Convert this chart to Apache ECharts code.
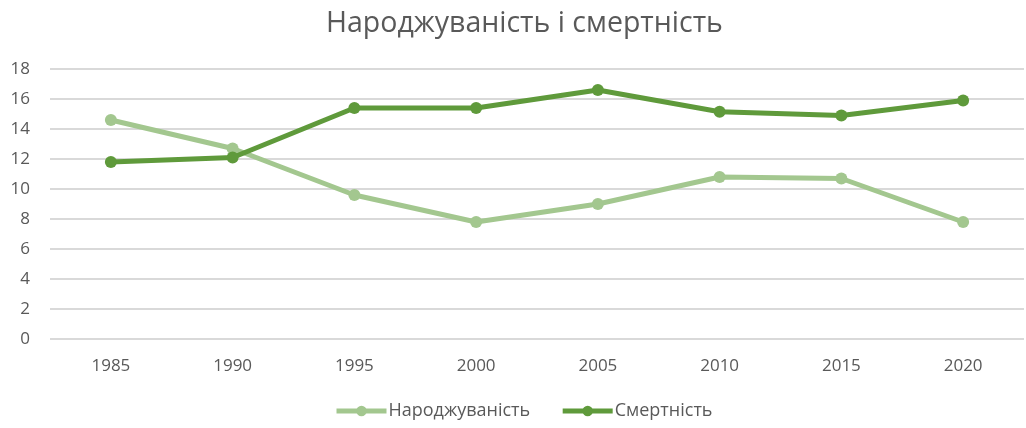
<!DOCTYPE html>
<html>
<head>
<meta charset="utf-8">
<script src="https://cdn.jsdelivr.net/npm/echarts@6/dist/echarts.min.js"></script>
<style>html,body{margin:0;padding:0;background:#fff;}#c{width:1026px;height:428px;}</style>
</head>
<body>
<div id="c"></div>
<script>
const categories = ['1985','1990','1995','2000','2005','2010','2015','2020'];
const births = [14.6, 12.7, 9.6, 7.8, 9.0, 10.8, 10.7, 7.8];
const deaths = [11.8, 12.1, 15.4, 15.4, 16.6, 15.15, 14.9, 15.9];
const seriesNames = ['Народжуваність', 'Смертність'];
const titleText = 'Народжуваність і смертність';

const chart = echarts.init(document.getElementById('c'));
const txt = '#595959';
const font = '"Open Sans", "Liberation Sans", sans-serif';
function lineSeries(name, data, color) {
  return {
    name: name, type: 'line', data: data,
    symbol: 'circle', symbolSize: 12,
    lineStyle: { color: color, width: 5 },
    itemStyle: { color: color },
    emphasis: { disabled: true }
  };
}
chart.setOption({
  animation: false,
  title: { text: titleText, left: 321, top: 4,
    textStyle: { fontFamily: font, fontSize: 28.5, fontWeight: 'normal', color: txt } },
  legend: { bottom: 3, left: 329, itemWidth: 50, itemHeight: 13, itemGap: 30,
    lineStyle: { width: 5 },
    textStyle: { fontFamily: font, fontSize: 18, color: txt, padding: [0, 0, 0, -3] },
    data: seriesNames },
  grid: { left: 50, right: 2, top: 69, bottom: 89, containLabel: false },
  xAxis: { type: 'category', data: categories, boundaryGap: true,
    axisLine: { show: false }, axisTick: { show: false },
    axisLabel: { fontFamily: font, fontSize: 17, color: txt, margin: 19 } },
  yAxis: { type: 'value', min: 0, max: 18, interval: 2,
    axisLine: { show: false }, axisTick: { show: false },
    axisLabel: { fontFamily: font, fontSize: 17, color: txt, margin: 20 },
    splitLine: { lineStyle: { color: '#d9d9d9', width: 2 } } },
  series: [
    lineSeries(seriesNames[0], births, '#A3C78F'),
    lineSeries(seriesNames[1], deaths, '#5F9A3B')
  ]
});
</script>
</body>
</html>
